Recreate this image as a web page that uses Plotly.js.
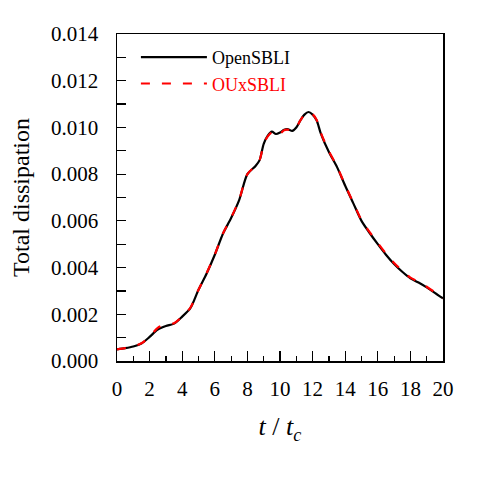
<!DOCTYPE html>
<html>
<head>
<meta charset="utf-8">
<script src="https://cdn.plot.ly/plotly-3.0.1.min.js"></script>
<style>
  html, body { margin: 0; padding: 0; background: #fff; }
  #chart { width: 480px; height: 480px; }
</style>
</head>
<body>
<div id="chart"></div>
<script>
// Non-dimensional time t / t_c
const timeOpenSBLI = [0, 0.5, 1.0, 1.5, 2.0, 2.5, 3.0, 3.5, 4.0, 4.5, 5.0, 5.5, 6.0, 6.5, 7.0, 7.5, 8.0, 8.5, 8.75, 9.0, 9.25, 9.5, 9.75, 10.0, 10.25, 10.5, 10.75, 11.0, 11.25, 11.5, 11.75, 12.0, 12.25, 12.5, 13.0, 13.5, 14.0, 14.5, 15.0, 15.5, 16.0, 16.5, 17.0, 17.5, 18.0, 18.5, 19.0, 19.5, 20.0];
// Total dissipation, OpenSBLI
const dissOpenSBLI = [0.00050, 0.00055, 0.00062, 0.00075, 0.00103, 0.00135, 0.00150, 0.00160, 0.00190, 0.00226, 0.00305, 0.00375, 0.00455, 0.00545, 0.00612, 0.00690, 0.00800, 0.00835, 0.00860, 0.00930, 0.00965, 0.00982, 0.00972, 0.00978, 0.00990, 0.00992, 0.00985, 0.01000, 0.01030, 0.01055, 0.01066, 0.01055, 0.01030, 0.00975, 0.00895, 0.00830, 0.00750, 0.00675, 0.00600, 0.00548, 0.00500, 0.00455, 0.00415, 0.00382, 0.00354, 0.00336, 0.00315, 0.00292, 0.00268];

const timeOUxSBLI = [0, 0.5, 1.0, 1.5, 2.0, 2.5, 3.0, 3.5, 4.0, 4.5, 5.0, 5.5, 6.0, 6.5, 7.0, 7.5, 8.0, 8.5, 8.75, 9.0, 9.25, 9.5, 9.75, 10.0, 10.25, 10.5, 10.75, 11.0, 11.25, 11.5, 11.75, 12.0, 12.25, 12.5, 13.0, 13.5, 14.0, 14.5, 15.0, 15.5, 16.0, 16.5, 17.0, 17.5, 18.0, 18.5, 19.0, 19.5, 20.0];
// Total dissipation, OUxSBLI
const dissOUxSBLI = [0.00050, 0.00055, 0.00063, 0.00076, 0.00104, 0.00142, 0.00158, 0.00162, 0.00190, 0.00228, 0.00305, 0.00376, 0.00456, 0.00546, 0.00613, 0.00692, 0.00800, 0.00836, 0.00860, 0.00928, 0.00962, 0.00978, 0.00965, 0.00972, 0.00988, 0.00990, 0.00985, 0.01000, 0.01030, 0.01054, 0.01064, 0.01056, 0.01032, 0.00978, 0.00898, 0.00833, 0.00752, 0.00678, 0.00603, 0.00552, 0.00505, 0.00460, 0.00420, 0.00386, 0.00357, 0.00339, 0.00318, 0.00294, 0.00268];

const xTickVals = [0, 2, 4, 6, 8, 10, 12, 14, 16, 18, 20];
const yTickVals = [0, 0.002, 0.004, 0.006, 0.008, 0.010, 0.012, 0.014];

const serif = 'Liberation Serif, Times New Roman, serif';

const traces = [
  {
    x: timeOpenSBLI, y: dissOpenSBLI, name: 'OpenSBLI',
    type: 'scatter', mode: 'lines',
    line: { color: '#000000', width: 2.2, shape: 'spline', smoothing: 0.8 }
  },
  {
    x: timeOUxSBLI, y: dissOUxSBLI, name: 'OUxSBLI',
    type: 'scatter', mode: 'lines',
    line: { color: '#ff0000', width: 2.2, dash: '9px,12px', shape: 'spline', smoothing: 0.8 }
  }
];

const axisCommon = {
  showgrid: false, zeroline: false,
  showline: true, linecolor: '#000', linewidth: 1.5, mirror: true,
  ticks: 'inside', tickcolor: '#000', tickwidth: 1.2,
  tickfont: { family: serif, size: 21, color: '#000' }
};

const layout = {
  width: 480, height: 480,
  margin: { l: 117, r: 37, t: 34, b: 119 },
  paper_bgcolor: '#fff', plot_bgcolor: '#fff',
  showlegend: true,
  legend: {
    x: 0.058, y: 0.985, xanchor: 'left', yanchor: 'top',
    bgcolor: 'rgba(0,0,0,0)', borderwidth: 0,
    font: { family: serif, size: 18, color: '#000' },
    itemwidth: 66
  },
  xaxis: Object.assign({}, axisCommon, {
    range: [0, 20], tickvals: xTickVals, ticklen: 10,
    ticklabelstandoff: 8,
    minor: { dtick: 1, ticks: 'inside', ticklen: 5, tickcolor: '#000', tickwidth: 1.2 },
    title: { text: '<i>t</i> / <i>t</i><sub><i>c</i></sub>', font: { family: serif, size: 26, color: '#000' }, standoff: 17 }
  }),
  yaxis: Object.assign({}, axisCommon, {
    range: [0, 0.014], tickvals: yTickVals, tickformat: '.3f', ticklen: 9,
    ticklabelstandoff: 13,
    minor: { dtick: 0.001, ticks: 'inside', ticklen: 9, tickcolor: '#000', tickwidth: 1.2 },
    title: { text: 'Total dissipation', font: { family: serif, size: 24, color: '#000' }, standoff: 14 }
  })
};

Plotly.newPlot('chart', traces, layout, { displayModeBar: false, staticPlot: true }).then(function () {
  // colour each legend label like its line
  const labels = document.querySelectorAll('.legendtext');
  const colors = ['#000000', '#ff0000'];
  labels.forEach(function (el, i) { el.style.fill = colors[i]; });
});
</script>
</body>
</html>
